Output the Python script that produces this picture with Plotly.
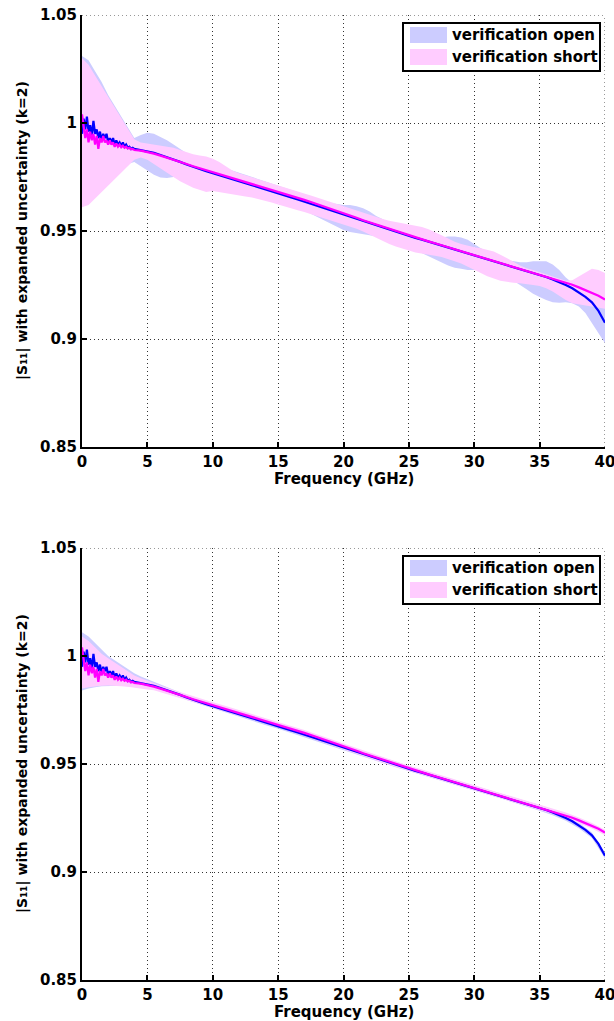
import plotly.graph_objects as go

# ---------------- data ----------------
FREQ_LINE = [0.0, 0.125, 0.25, 0.375, 0.5, 0.625, 0.75, 0.875, 1.0, 1.125, 1.25, 1.375,
             1.5, 1.625, 1.75, 1.875, 2.0, 2.125, 2.25, 2.375, 2.5, 2.625, 2.75, 2.875,
             3.0, 3.125, 3.25, 3.375, 3.5, 3.625, 3.75, 3.875, 4.0,
             4.5, 5.0, 5.5, 6.0, 6.5, 7.0, 7.5, 8.0, 8.5, 9.0, 9.5,
             10.0, 10.5, 11.0, 11.5, 12.0, 12.5, 13.0, 13.5, 14.0, 14.5,
             15.0, 15.5, 16.0, 16.5, 17.0, 17.5, 18.0, 18.5, 19.0, 19.5,
             20.0, 20.5, 21.0, 21.5, 22.0, 22.5, 23.0, 23.5, 24.0, 24.5,
             25.0, 25.5, 26.0, 26.5, 27.0, 27.5, 28.0, 28.5, 29.0, 29.5,
             30.0, 30.5, 31.0, 31.5, 32.0, 32.5, 33.0, 33.5, 34.0, 34.5,
             35.0, 35.5, 36.0, 36.5, 37.0, 37.5, 38.0, 38.5, 39.0, 39.5, 40.0]

OPEN_MAG = [0.995, 1.002, 0.997, 1.003, 0.996, 0.999, 0.994, 1.001, 0.995, 0.997, 0.993, 0.996,
            0.992, 0.995, 0.993, 0.995, 0.991, 0.993, 0.991, 0.993, 0.990, 0.992, 0.990, 0.991,
            0.9895, 0.991, 0.989, 0.990, 0.9885, 0.989, 0.988, 0.9885, 0.988,
            0.9875, 0.9870, 0.9862, 0.9852, 0.9842, 0.9832, 0.9820, 0.9808, 0.9797, 0.9787, 0.9777,
            0.9768, 0.9758, 0.9749, 0.9740, 0.9731, 0.9721, 0.9712, 0.9702, 0.9693, 0.9684,
            0.9675, 0.9665, 0.9655, 0.9646, 0.9636, 0.9626, 0.9616, 0.9606, 0.9596, 0.9587,
            0.9577, 0.9567, 0.9557, 0.9547, 0.9537, 0.9527, 0.9517, 0.9507, 0.9497, 0.9487,
            0.9477, 0.9468, 0.9460, 0.9451, 0.9442, 0.9433, 0.9424, 0.9415, 0.9406, 0.9397,
            0.9389, 0.9380, 0.9371, 0.9362, 0.9353, 0.9343, 0.9334, 0.9325, 0.9316, 0.9306,
            0.9297, 0.9287, 0.9276, 0.9264, 0.9250, 0.9235, 0.9215, 0.9195, 0.9170, 0.9130, 0.9075]

SHORT_MAG = [1.004, 0.998, 0.993, 0.997, 0.991, 0.996, 0.992, 0.995, 0.990, 0.994, 0.988, 0.993,
             0.991, 0.994, 0.991, 0.992, 0.990, 0.992, 0.990, 0.991, 0.989, 0.9905, 0.989, 0.990,
             0.9888, 0.9895, 0.9885, 0.989, 0.9882, 0.9885, 0.9878, 0.988, 0.9875,
             0.9872, 0.9866, 0.9858, 0.9849, 0.9840, 0.9830, 0.9820, 0.9810, 0.9800, 0.9791, 0.9782,
             0.9773, 0.9764, 0.9755, 0.9746, 0.9737, 0.9728, 0.9719, 0.9710, 0.9701, 0.9692,
             0.9683, 0.9673, 0.9664, 0.9654, 0.9644, 0.9634, 0.9624, 0.9614, 0.9604, 0.9593,
             0.9583, 0.9572, 0.9561, 0.9550, 0.9540, 0.9529, 0.9519, 0.9509, 0.9499, 0.9489,
             0.9479, 0.9470, 0.9461, 0.9452, 0.9443, 0.9434, 0.9425, 0.9416, 0.9407, 0.9398,
             0.9389, 0.9380, 0.9371, 0.9362, 0.9353, 0.9344, 0.9335, 0.9326, 0.9317, 0.9308,
             0.9299, 0.9290, 0.9281, 0.9272, 0.9262, 0.9251, 0.9239, 0.9227, 0.9214, 0.9200, 0.9183]

# upper panel: expanded uncertainty envelopes (upper / lower bounds)
FREQ_BAND = [0.0, 0.5, 1.0, 1.5, 2.0, 2.5, 3.0, 3.5, 4.0, 4.5,
             5.0, 5.5, 6.0, 6.5, 7.0, 7.5, 8.0, 8.5, 9.0, 9.5,
             10.0, 10.5, 11.0, 11.5, 12.0, 12.5, 13.0, 13.5, 14.0, 14.5,
             15.0, 15.5, 16.0, 16.5, 17.0, 17.5, 18.0, 18.5, 19.0, 19.5,
             20.0, 20.5, 21.0, 21.5, 22.0, 22.5, 23.0, 23.5, 24.0, 24.5,
             25.0, 25.5, 26.0, 26.5, 27.0, 27.5, 28.0, 28.5, 29.0, 29.5,
             30.0, 30.5, 31.0, 31.5, 32.0, 32.5, 33.0, 33.5, 34.0, 34.5,
             35.0, 35.5, 36.0, 36.5, 37.0, 37.5, 38.0, 38.5, 39.0, 39.5, 40.0]

OPEN_TOP_HI = [1.031, 1.029, 1.024, 1.019, 1.013, 1.008, 1.003, 0.998, 0.993, 0.9945,
               0.9955, 0.995, 0.9935, 0.992, 0.990, 0.988, 0.986, 0.9845, 0.983, 0.981,
               0.981, 0.980, 0.979, 0.978, 0.977, 0.976, 0.975, 0.974, 0.973, 0.972,
               0.971, 0.970, 0.969, 0.968, 0.967, 0.966, 0.965, 0.964, 0.963, 0.9625,
               0.962, 0.962, 0.9615, 0.9605, 0.959, 0.957, 0.9555, 0.954, 0.9525, 0.951,
               0.950, 0.949, 0.948, 0.9475, 0.947, 0.947, 0.9475, 0.9475, 0.947, 0.946,
               0.944, 0.942, 0.9405, 0.939, 0.9375, 0.9365, 0.936, 0.9355, 0.9355, 0.936,
               0.936, 0.936, 0.9345, 0.932, 0.9285, 0.926, 0.9235, 0.921, 0.9185, 0.9165, 0.9145]

OPEN_TOP_LO = [0.962, 0.963, 0.966, 0.969, 0.972, 0.975, 0.978, 0.981, 0.982, 0.980,
               0.978, 0.976, 0.9748, 0.9745, 0.975, 0.9748, 0.974, 0.9735, 0.973, 0.9725,
               0.9728, 0.9718, 0.9709, 0.970, 0.969, 0.968, 0.967, 0.966, 0.965, 0.964,
               0.9635, 0.9625, 0.9615, 0.9605, 0.9595, 0.958, 0.9565, 0.955, 0.9535, 0.952,
               0.9505, 0.9495, 0.949, 0.9485, 0.948, 0.9475, 0.9465, 0.9455, 0.9445, 0.9435,
               0.9425, 0.9412, 0.940, 0.9385, 0.937, 0.9355, 0.934, 0.933, 0.9325, 0.932,
               0.932, 0.9318, 0.9315, 0.931, 0.930, 0.9285, 0.927, 0.925, 0.923, 0.921,
               0.9195, 0.918, 0.917, 0.9168, 0.917, 0.9165, 0.915, 0.912, 0.9075, 0.9025, 0.898]

SHORT_TOP_HI = [1.030, 1.027, 1.022, 1.017, 1.012, 1.007, 1.002, 0.997, 0.9925, 0.991,
                0.9905, 0.990, 0.9895, 0.989, 0.9885, 0.9875, 0.9865, 0.9855, 0.985, 0.9845,
                0.9835, 0.982, 0.980, 0.978, 0.9767, 0.9758, 0.9749, 0.974, 0.9731, 0.9722,
                0.9713, 0.9703, 0.9694, 0.9684, 0.9674, 0.9664, 0.9654, 0.9644, 0.9634, 0.9623,
                0.9613, 0.9603, 0.9593, 0.9583, 0.9573, 0.9563, 0.9555, 0.9548, 0.9542, 0.9536,
                0.9532, 0.9526, 0.9518, 0.9508, 0.9495, 0.948, 0.9465, 0.945, 0.944, 0.9432,
                0.9425, 0.942, 0.9414, 0.9405, 0.939, 0.9375, 0.9358, 0.934, 0.9328, 0.932,
                0.931, 0.930, 0.929, 0.928, 0.927, 0.9272, 0.929, 0.931, 0.9325, 0.932, 0.9305]

SHORT_TOP_LO = [0.961, 0.962, 0.965, 0.968, 0.971, 0.974, 0.977, 0.980, 0.983, 0.984,
                0.983, 0.981, 0.979, 0.977, 0.975, 0.973, 0.9715, 0.970, 0.969, 0.968,
                0.9685, 0.968, 0.9675, 0.967, 0.9665, 0.966, 0.9655, 0.9648, 0.964, 0.9632,
                0.9623, 0.9613, 0.9604, 0.9596, 0.9588, 0.958, 0.957, 0.956, 0.955, 0.954,
                0.953, 0.952, 0.951, 0.9498, 0.9485, 0.947, 0.9455, 0.944, 0.9428, 0.9418,
                0.941, 0.940, 0.9395, 0.939, 0.9385, 0.938, 0.937, 0.936, 0.935, 0.9335,
                0.932, 0.9305, 0.929, 0.928, 0.927, 0.9265, 0.926, 0.9258, 0.9255, 0.925,
                0.9245, 0.9235, 0.922, 0.920, 0.918, 0.9165, 0.916, 0.9155, 0.915, 0.9145, 0.914]

# lower panel: expanded uncertainty envelopes (upper / lower bounds)
FREQ_BAND_B = [0.0, 0.5, 1.0, 1.5, 2.0, 2.5, 3.0, 3.5, 4.0, 4.5, 5.0, 5.5, 6.0,
               7.0, 8.0, 9.0, 10.0, 11.0, 12.0, 13.0, 14.0, 15.0, 16.0, 17.0, 18.0, 19.0,
               20.0, 21.0, 22.0, 23.0, 24.0, 25.0, 26.0, 27.0, 28.0, 29.0, 30.0, 31.0,
               32.0, 33.0, 34.0, 35.0, 36.0, 37.0, 38.0, 39.0, 40.0]

OPEN_BOT_HI = [1.011, 1.009, 1.006, 1.003, 1.000, 0.998, 0.996, 0.994, 0.992, 0.9905, 0.9893, 0.9879, 0.9866,
               0.9844, 0.9820, 0.9799, 0.9780, 0.9761, 0.9743, 0.9724, 0.9705, 0.9687, 0.9667, 0.9648,
               0.9628, 0.9608, 0.9589, 0.9569, 0.9549, 0.9529, 0.9509, 0.9489, 0.9472, 0.9454, 0.9436,
               0.9418, 0.9401, 0.9383, 0.9365, 0.9346, 0.9328, 0.9310, 0.9289, 0.9263, 0.9228, 0.9183, 0.9088]

OPEN_BOT_LO = [0.984, 0.985, 0.9855, 0.986, 0.986, 0.9862, 0.9862, 0.986, 0.9858, 0.9852, 0.9848, 0.9845, 0.9838,
               0.9820, 0.9796, 0.9775, 0.9756, 0.9737, 0.9719, 0.9700, 0.9681, 0.9663, 0.9643, 0.9624,
               0.9604, 0.9584, 0.9565, 0.9545, 0.9525, 0.9505, 0.9485, 0.9465, 0.9448, 0.9430, 0.9412,
               0.9394, 0.9377, 0.9359, 0.9341, 0.9322, 0.9304, 0.9284, 0.9263, 0.9237, 0.9202, 0.9157, 0.9062]

SHORT_BOT_HI = [1.009, 1.007, 1.004, 1.001, 0.999, 0.997, 0.995, 0.993, 0.991, 0.9897, 0.9887, 0.9874, 0.9864,
                0.9843, 0.9823, 0.9804, 0.9786, 0.9768, 0.9750, 0.9732, 0.9714, 0.9696, 0.9677, 0.9657,
                0.9637, 0.9617, 0.9596, 0.9574, 0.9553, 0.9532, 0.9512, 0.9492, 0.9474, 0.9456, 0.9438,
                0.9420, 0.9402, 0.9384, 0.9366, 0.9348, 0.9330, 0.9312, 0.9294, 0.9275, 0.9252, 0.9227, 0.9196]

SHORT_BOT_LO = [0.985, 0.9855, 0.986, 0.9862, 0.9863, 0.9862, 0.986, 0.9858, 0.9855, 0.985, 0.9845, 0.9842, 0.9835,
                0.9817, 0.9797, 0.9778, 0.9760, 0.9742, 0.9724, 0.9706, 0.9688, 0.9670, 0.9651, 0.9631,
                0.9611, 0.9591, 0.9570, 0.9548, 0.9527, 0.9506, 0.9486, 0.9466, 0.9448, 0.9430, 0.9412,
                0.9394, 0.9376, 0.9358, 0.9340, 0.9322, 0.9304, 0.9286, 0.9268, 0.9249, 0.9226, 0.9201, 0.9170]

X_TICKS = [0, 5, 10, 15, 20, 25, 30, 35, 40]
X_TICK_TEXT = ["0", "5", "10", "15", "20", "25", "30", "35", "40"]
Y_TICKS = [0.85, 0.9, 0.95, 1.0, 1.05]
Y_TICK_TEXT = ["0.85", "0.9", "0.95", "1", "1.05"]
X_RANGE = [0, 40]
Y_RANGE = [0.85, 1.05]

SERIES_NAMES = ["verification open", "verification short"]
BAND_COLORS = ["#CCCCFF", "#FFCCFF"]
LINE_COLORS = ["#0000FF", "#FF00FF"]

X_TITLE = "Frequency (GHz)"
Y_TITLE = "|S\u2081\u2081| with expanded uncertainty (k=2)"

# ---------------- figure ----------------
W, H = 614, 1021
FONT = "DejaVu Sans"
GRID_COLOR = "#333333"
GRID_DASH = "1px,3px"

fig = go.Figure()

panels = [
    dict(xa="x", ya="y", top=15, bottom=447,
         bands=[(FREQ_BAND, OPEN_TOP_HI, OPEN_TOP_LO), (FREQ_BAND, SHORT_TOP_HI, SHORT_TOP_LO)]),
    dict(xa="x2", ya="y2", top=548, bottom=980,
         bands=[(FREQ_BAND_B, OPEN_BOT_HI, OPEN_BOT_LO), (FREQ_BAND_B, SHORT_BOT_HI, SHORT_BOT_LO)]),
]

for p in panels:
    for i, (f, hi, lo) in enumerate(p["bands"]):
        fig.add_trace(go.Scatter(
            x=list(f) + list(f)[::-1], y=list(hi) + list(lo)[::-1],
            fill="toself", fillcolor=BAND_COLORS[i], mode="lines",
            line=dict(width=0, color=BAND_COLORS[i]),
            name=SERIES_NAMES[i], showlegend=False,
            xaxis=p["xa"], yaxis=p["ya"], hoverinfo="skip"))
    for i, mag in enumerate([OPEN_MAG, SHORT_MAG]):
        fig.add_trace(go.Scatter(
            x=FREQ_LINE, y=mag, mode="lines",
            line=dict(color=LINE_COLORS[i], width=2.2),
            name=SERIES_NAMES[i], showlegend=False,
            xaxis=p["xa"], yaxis=p["ya"]))

XL, XR = 82, 605
x0, x1 = XL / W, XR / W

axis_common = dict(
    showline=True, linecolor="black", linewidth=2,
    ticks="inside", ticklen=5, tickwidth=1.5, tickcolor="black",
    showgrid=True, gridcolor=GRID_COLOR, gridwidth=1, griddash=GRID_DASH,
    zeroline=False, mirror=False, ticklabeloverflow="allow", automargin=False,
    tickfont=dict(family=FONT, size=15, color="black", weight="bold"),
)

shapes = []
annotations = []


def py(v):
    return 1 - v / H


def pxp(v):
    return v / W


for k, p in (("", panels[0]), ("2", panels[1])):
    dom = [py(p["bottom"]), py(p["top"])]
    fig.update_layout(**{
        "xaxis" + k: dict(axis_common, domain=[x0, x1], range=X_RANGE,
                          tickvals=X_TICKS, ticktext=X_TICK_TEXT,
                          anchor="y" + k),
        "yaxis" + k: dict(axis_common, domain=dom, range=Y_RANGE,
                          tickvals=Y_TICKS, ticktext=Y_TICK_TEXT,
                          anchor="x" + k),
    })
    # grid lines at the far edges of the axes (plotly clips them at range ends)
    shapes.append(dict(type="line", xref=p["xa"], yref=p["ya"],
                       x0=X_RANGE[0], x1=X_RANGE[1], y0=Y_RANGE[1], y1=Y_RANGE[1],
                       line=dict(color=GRID_COLOR, width=1, dash=GRID_DASH), layer="below"))
    shapes.append(dict(type="line", xref=p["xa"], yref=p["ya"],
                       x0=X_RANGE[1], x1=X_RANGE[1], y0=Y_RANGE[0], y1=Y_RANGE[1],
                       line=dict(color=GRID_COLOR, width=1, dash=GRID_DASH), layer="below"))

    # legend box (drawn as in the reference: filled swatches + labels)
    off = p["top"] - 15
    shapes.append(dict(type="rect", xref="paper", yref="paper",
                       x0=pxp(403), x1=pxp(600), y0=py(71 + off), y1=py(23 + off),
                       line=dict(color="black", width=2), fillcolor="white", layer="above"))
    for i, name in enumerate(SERIES_NAMES):
        yc = 35 + 22 * i + off
        shapes.append(dict(type="rect", xref="paper", yref="paper",
                           x0=pxp(410), x1=pxp(447), y0=py(yc + 8), y1=py(yc - 8),
                           line=dict(width=0), fillcolor=BAND_COLORS[i], layer="above"))
        annotations.append(dict(
            text=name, x=pxp(450), y=py(yc), xref="paper", yref="paper",
            xanchor="left", yanchor="middle", showarrow=False,
            font=dict(family=FONT, size=15, color="black", weight="bold")))

    # axis titles
    annotations.append(dict(
        text=X_TITLE, x=(x0 + x1) / 2, y=py(p["bottom"] + 32), xref="paper", yref="paper",
        xanchor="center", yanchor="middle", showarrow=False,
        font=dict(family=FONT, size=15, color="black", weight="bold")))
    annotations.append(dict(
        text=Y_TITLE, x=pxp(22), y=py((p["top"] + p["bottom"]) / 2), xref="paper", yref="paper",
        xanchor="center", yanchor="middle", showarrow=False, textangle=-90,
        font=dict(family=FONT, size=14, color="black", weight="bold")))

fig.update_layout(
    width=W, height=H,
    margin=dict(l=0, r=0, t=0, b=0, autoexpand=False),
    paper_bgcolor="white", plot_bgcolor="white",
    showlegend=False,
    shapes=shapes,
    annotations=annotations,
)

fig.write_html("out.html")
